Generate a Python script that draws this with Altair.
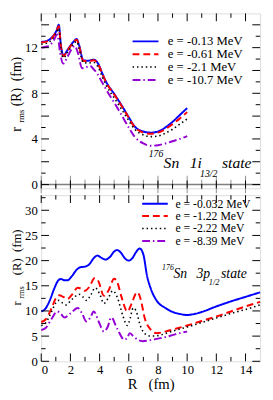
import altair as alt
import pandas as pd

# ---------------- data ----------------
# Top panel: 176Sn 1i13/2 state
top_labels = ["e = -0.13 MeV", "e = -0.61 MeV", "e = -2.1 MeV", "e = -10.7 MeV"]
top_R = {
    "a": [0, 0.4, 0.8, 1.05, 1.2, 1.35, 1.52, 1.8, 2.2, 2.43, 2.6, 2.88, 3.2, 3.6, 3.9, 4.2, 4.45, 5.0, 5.53, 6.0, 6.4, 7.0, 7.5, 8.0, 8.5, 9.0, 9.5, 10],
    "d": [0, 0.4, 0.8, 1.1, 1.3, 1.5, 1.8, 2.1, 2.3, 2.5, 2.8, 3.1, 3.35, 3.6, 3.8, 4.2, 4.6, 5.0, 5.5, 6.0, 6.4, 7.0, 7.5, 8.0, 8.5, 9.0, 9.5, 10],
}
top_blue = [12.5, 12.6, 13.0, 13.5, 14.0, 12.2, 11.3, 11.8, 12.5, 12.75, 12.2, 10.9, 10.85, 10.95, 10.6, 9.7, 9.0, 7.95, 6.9, 5.9, 5.1, 4.65, 4.55, 4.65, 5.0, 5.5, 6.1, 6.7]
top_red = [12.45, 12.55, 12.95, 13.45, 13.9, 12.1, 11.25, 11.75, 12.45, 12.7, 12.1, 10.85, 10.8, 10.9, 10.55, 9.65, 8.95, 7.9, 6.85, 5.85, 5.05, 4.55, 4.45, 4.55, 4.85, 5.3, 5.8, 6.35]
top_black = [12.3, 12.4, 12.8, 13.3, 13.7, 11.9, 11.1, 11.6, 12.3, 12.55, 11.9, 10.7, 10.65, 10.7, 10.3, 9.4, 8.7, 7.6, 6.55, 5.6, 4.85, 4.35, 4.2, 4.25, 4.5, 4.85, 5.3, 5.75]
top_purple = [12.0, 12.1, 12.5, 13.15, 11.5, 10.6, 11.2, 11.9, 12.15, 11.6, 10.2, 10.3, 10.4, 10.1, 9.8, 8.9, 8.0, 7.2, 6.1, 5.0, 4.2, 3.6, 3.4, 3.45, 3.6, 3.8, 4.0, 4.25]

# Bottom panel: 176Sn 3p1/2 state
bot_labels = ["e = -0.032 MeV", "e = -1.22 MeV", "e = -2.22 MeV", "e = -8.39 MeV"]
bot_blue_R = [0, 0.3, 0.6, 0.9, 1.15, 1.35, 1.6, 1.8, 2.1, 2.4, 2.7, 3.0, 3.3, 3.6, 3.85, 4.1, 4.4, 4.7, 5.0, 5.2, 5.45, 5.75, 6.0, 6.25, 6.5, 6.75, 7.0, 7.25, 7.5, 7.9, 8.5, 9.0, 9.5, 10.0, 10.5, 11, 12, 13, 14, 15]
bot_blue = [9.9, 10.5, 12.2, 14.5, 16.0, 16.35, 16.1, 16.1, 16.9, 18.1, 18.7, 18.8, 19.3, 20.5, 21.0, 20.6, 20.2, 20.7, 21.8, 22.1, 21.6, 20.4, 20.0, 20.5, 21.7, 22.4, 21.2, 17.0, 14.5, 12.1, 10.6, 9.8, 9.4, 9.2, 9.4, 9.8, 10.9, 11.9, 12.8, 13.7]
bot_red_R = [0, 0.3, 0.7, 1.0, 1.25, 1.5, 1.8, 2.1, 2.5, 2.75, 3.0, 3.3, 3.65, 3.9, 4.3, 4.6, 5.0, 5.2, 5.5, 5.9, 6.2, 6.45, 6.6, 6.8, 7.1, 7.5, 7.9, 8.5, 9.0, 10, 11, 12, 13, 14, 15]
bot_red = [7.8, 8.3, 10.5, 12.5, 13.1, 12.8, 12.4, 13.2, 14.6, 14.4, 14.0, 14.8, 16.5, 16.0, 13.0, 14.0, 16.4, 15.8, 12.8, 9.9, 11.5, 13.3, 13.7, 12.5, 8.5, 6.3, 5.6, 5.9, 6.3, 7.1, 8.0, 8.9, 9.9, 10.9, 11.8]
bot_black_R = [0, 0.3, 0.7, 1.0, 1.2, 1.45, 1.7, 2.1, 2.6, 2.85, 3.1, 3.4, 3.7, 4.0, 4.3, 4.6, 4.9, 5.2, 5.6, 5.9, 6.1, 6.3, 6.5, 6.8, 7.1, 7.5, 8.0, 8.5, 9.0, 10, 11, 12, 13, 14, 15]
bot_black = [7.1, 7.6, 9.8, 11.6, 12.1, 11.6, 11.2, 12.3, 13.3, 12.8, 12.1, 13.2, 14.6, 13.4, 11.5, 12.6, 14.0, 12.8, 9.0, 7.1, 8.6, 10.6, 10.0, 7.0, 5.5, 5.0, 5.1, 5.5, 6.0, 6.8, 7.7, 8.6, 9.5, 10.3, 11.2]
bot_purple_R = [0, 0.3, 0.7, 1.1, 1.35, 1.6, 2.0, 2.5, 2.8, 3.1, 3.35, 3.6, 3.95, 4.3, 4.55, 4.8, 5.2, 5.7, 5.9, 6.07, 6.3, 6.6, 6.94, 7.5, 8.0, 8.5, 9, 9.5, 10]
bot_purple = [6.2, 6.6, 8.4, 9.9, 9.4, 8.7, 9.5, 10.6, 9.5, 7.9, 8.6, 9.9, 7.8, 5.9, 6.8, 8.7, 6.5, 4.3, 4.7, 5.6, 5.0, 4.3, 4.0, 4.2, 4.5, 4.8, 5.2, 5.6, 5.9]

x_major = [0, 2, 4, 6, 8, 10, 12, 14]
x_minor = [1, 3, 5, 7, 9, 11, 13]
top_y_major = [0, 2, 4, 6, 8, 10, 12, 14]
top_y_minor = [1, 3, 5, 7, 9, 11, 13]
bot_y_major = [0, 5, 10, 15, 20, 25, 30]
bot_y_minor = [2.5, 7.5, 12.5, 17.5, 22.5, 27.5, 32.5]

# ---------------- styling ----------------
FONT = "Times New Roman, Liberation Serif, serif"
W = 224
H1 = 179
H2 = 170
LEFT = 32.7
TOP_DOM = [-0.33, 15]
BOT_DOM = [0, 33]
COLORS = ["#0000ff", "#ff0000", "#000000", "#9400d3"]
DASHES = [[1, 0], [7, 4], [1.5, 3], [8, 3, 1.5, 3]]
WIDTHS = [2, 2, 1.6, 2]
MAJ, MIN = 8, 4.5


def txt(s, x, y, size, angle=0, italic=False, align="left", baseline="alphabetic"):
    return alt.Chart(pd.DataFrame({"t": [s]})).mark_text(
        text=s, font=FONT, fontSize=size, angle=angle, align=align, baseline=baseline,
        fontStyle="italic" if italic else "normal", color="black"
    ).encode(x=alt.value(x), y=alt.value(y))


def frame_ticks(xenc, yenc, xmaj, xmin, ymaj, ymin, H):
    layers = []
    for vals, ln in ((xmaj, MAJ), (xmin, MIN)):
        d = pd.DataFrame({"R": vals})
        layers.append(alt.Chart(d).mark_rule(color="black", strokeWidth=1).encode(x=xenc, y=alt.value(0), y2=alt.value(ln)))
        layers.append(alt.Chart(d).mark_rule(color="black", strokeWidth=1).encode(x=xenc, y=alt.value(H - ln), y2=alt.value(H)))
    for vals, ln in ((ymaj, MAJ), (ymin, MIN)):
        d = pd.DataFrame({"v": vals})
        layers.append(alt.Chart(d).mark_rule(color="black", strokeWidth=1).encode(y=yenc, x=alt.value(0), x2=alt.value(ln)))
        layers.append(alt.Chart(d).mark_rule(color="black", strokeWidth=1).encode(y=yenc, x=alt.value(W - ln), x2=alt.value(W)))
    return layers


def series_layers(xenc, yenc, series):
    out = []
    for i, (rs, vs) in enumerate(series):
        d = pd.DataFrame({"R": rs, "v": vs})
        out.append(alt.Chart(d).mark_line(
            interpolate="monotone", color=COLORS[i], strokeDash=DASHES[i], strokeWidth=WIDTHS[i]
        ).encode(x=xenc, y=yenc))
    return out


def legend_layers(labels, x0, x1, xt, ys, size):
    out = []
    for i, lab in enumerate(labels):
        d = pd.DataFrame({"t": [lab]})
        out.append(alt.Chart(d).mark_rule(color=COLORS[i], strokeDash=DASHES[i], strokeWidth=WIDTHS[i]).encode(
            x=alt.value(x0), x2=alt.value(x1), y=alt.value(ys[i])))
        out.append(txt(lab, xt, ys[i], size, baseline="middle"))
    return out


def left_anchor():
    return alt.Chart(pd.DataFrame({"t": [0]})).mark_rule(opacity=0).encode(
        x=alt.value(-LEFT), x2=alt.value(-LEFT + 0.5), y=alt.value(50))


axis_common = dict(labelFont=FONT, labelFontSize=13, labelColor="black", ticks=False, tickSize=0,
                   domain=False, grid=False)

# ---------------- top panel ----------------
xs_top = alt.X("R:Q", scale=alt.Scale(domain=[0, 15], nice=False, zero=False), axis=None)
ys_top = alt.Y("v:Q", scale=alt.Scale(domain=TOP_DOM, nice=False, zero=False),
               axis=alt.Axis(values=top_y_major, labelPadding=4, title=None, **axis_common))

top_series = [(top_R["a"], top_blue), (top_R["a"], top_red), (top_R["a"], top_black), (top_R["d"], top_purple)]

zero_df = pd.DataFrame({"v": [0]})
top_layers = [
    alt.Chart(zero_df).mark_rule(color="#808080", strokeWidth=1.5).encode(y=ys_top),
    alt.Chart(pd.DataFrame({"R": x_major})).mark_tick(orient="vertical", size=18, thickness=1, color="#606060").encode(x=xs_top, y=alt.datum(0)),
    alt.Chart(pd.DataFrame({"R": x_minor})).mark_tick(orient="vertical", size=10, thickness=1, color="#606060").encode(x=xs_top, y=alt.datum(0)),
]
top_layers += series_layers(xs_top, ys_top, top_series)
top_layers += frame_ticks(xs_top, ys_top, x_major, x_minor, top_y_major, top_y_minor, H1)
top_layers += legend_layers(top_labels, 93.5, 120, 129.5, [28.6, 41.7, 54.9, 68.1], 13)
top_layers += [
    txt("176", 110, 147, 10, italic=True),
    txt("Sn", 125.2, 158.5, 16, italic=True),
    txt("1i", 152, 158.5, 16, italic=True),
    txt("13/2", 162.5, 167.5, 10, italic=True),
    txt("state", 185, 158.5, 16, italic=True),
    # y title
    txt("r", -21, 121, 14, angle=270),
    txt("rms", -17.5, 112, 9, angle=270),
    txt("(R)\u00a0\u00a0(fm)", -21, 95, 14, angle=270),
    left_anchor(),
]
top = alt.layer(*top_layers).properties(width=W, height=H1)

# ---------------- bottom panel ----------------
xs_bot = alt.X("R:Q", scale=alt.Scale(domain=[0, 15], nice=False, zero=False),
               axis=alt.Axis(values=x_major, labelPadding=2, title="R\u00a0\u00a0\u00a0(fm)",
                             titleFont=FONT, titleFontSize=15, titleFontWeight="normal", titleColor="black",
                             titlePadding=1, **axis_common))
ys_bot = alt.Y("v:Q", scale=alt.Scale(domain=BOT_DOM, nice=False, zero=False),
               axis=alt.Axis(values=bot_y_major, labelPadding=4, title=None, **axis_common))

bot_series = [(bot_blue_R, bot_blue), (bot_red_R, bot_red), (bot_black_R, bot_black), (bot_purple_R, bot_purple)]
bot_layers = series_layers(xs_bot, ys_bot, bot_series)
bot_layers += frame_ticks(xs_bot, ys_bot, x_major, x_minor, bot_y_major, bot_y_minor, H2)
bot_layers += legend_layers(bot_labels, 103.3, 129.5, 137.3, [8.7, 21.4, 34.1, 46.8], 12)
bot_layers += [
    txt("176", 123.7, 77, 8, italic=True),
    txt("Sn", 135.4, 84.8, 14, italic=True),
    txt("3p", 158.8, 84.8, 14, italic=True),
    txt("1/2", 171.5, 91.6, 8.5, italic=True),
    txt("state", 184, 84.8, 14, italic=True),
    txt("r", -21, 113, 13, angle=270),
    txt("rms", -17.5, 106, 8.5, angle=270),
    txt("(R)\u00a0\u00a0(fm)", -21, 82, 13, angle=270),
    left_anchor(),
]
bot = alt.layer(*bot_layers).properties(width=W, height=H2)

chart = alt.vconcat(top, bot, spacing=0).resolve_scale(x="independent", y="independent").properties(
    padding={"left": 0, "top": 0, "right": 0, "bottom": 0}
).configure_view(stroke="black", strokeWidth=1).configure(background="white")

chart.save("out.html", embed_options={"renderer": "svg", "actions": False})
